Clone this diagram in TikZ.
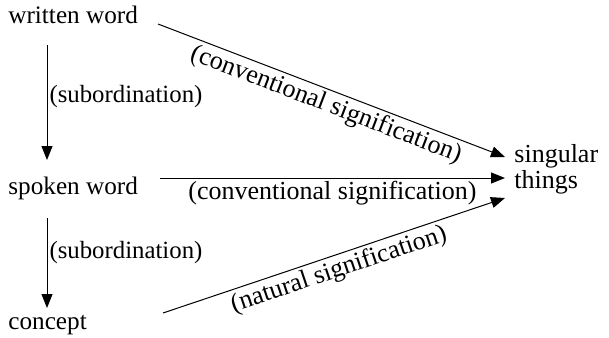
\documentclass[tikz,border=0pt]{standalone}
\usepackage{fontspec}
\setmainfont{Liberation Serif}
\usepackage{tikz}
\usetikzlibrary{arrows.meta,calc,positioning}

\begin{document}
\begin{tikzpicture}[x=0.5pt,y=-0.5pt,
  word/.style={inner sep=0pt,font=\fontsize{12.6pt}{13pt}\selectfont},
  lbl/.style={inner sep=1.5pt,font=\fontsize{13pt}{14pt}\selectfont},
  arr/.style={-{Triangle[length=7pt,width=5.5pt]},line width=0.5pt}]
  \useasboundingbox (0,0) rectangle (609,337);
  \node[word,anchor=base west] (ww) at (8,24) {written word};
  \node[word,anchor=base west] (sw) at (8,194) {spoken word};
  \node[word,anchor=base west] (cp) at (8,329) {concept};
  \node[word,anchor=west,align=left,font=\fontsize{13pt}{13pt}\selectfont] (st) at (514,169) {singular\\things};
  \draw[arr] ($(ww.base west)+(39,21)$) -- node[lbl,right,pos=0.45,inner sep=1pt,font=\fontsize{12.4pt}{13pt}\selectfont]{(subordination)} ($(sw.base west)+(39,-34)$);
  \draw[arr] ($(sw.base west)+(39,24)$) -- node[lbl,right,pos=0.38,inner sep=1pt,font=\fontsize{12.4pt}{13pt}\selectfont]{(subordination)} ($(cp.base west)+(39,-21)$);
  \draw[arr] ($(ww.base west)+(150,0)$) -- node[lbl,sloped,below]{(conventional signification)} ($(st.west)+(-9,-12)$);
  \draw[arr] ($(sw.base west)+(152,-16)$) -- node[lbl,below]{(conventional signification)} ($(st.west)+(-9,9)$);
  \draw[arr] ($(cp.base west)+(155,-16)$) -- node[lbl,sloped,below]{(natural signification)} ($(st.west)+(-9,29)$);
\end{tikzpicture}
\end{document}
